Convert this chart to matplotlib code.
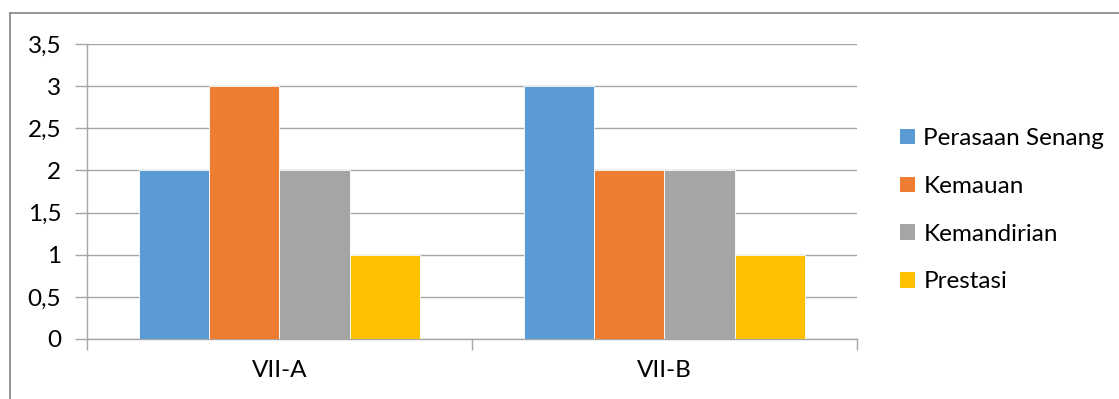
import matplotlib
matplotlib.use('Agg')
import matplotlib.pyplot as plt
from matplotlib.patches import Patch
from matplotlib.lines import Line2D
import numpy as np

plt.rcParams['font.family'] = ['Lato', 'DejaVu Sans']

# Scores per class
classes = ['VII-A', 'VII-B']
series = ['Perasaan Senang', 'Kemauan', 'Kemandirian', 'Prestasi']
perasaan_senang = [2, 3]
kemauan = [3, 2]
kemandirian = [2, 2]
prestasi = [1, 1]
values = [perasaan_senang, kemauan, kemandirian, prestasi]
colors = ['#5B9BD5', '#ED7D31', '#A5A5A5', '#FFC000']

fig = plt.figure(figsize=(11.19, 3.99), dpi=100)
ax = fig.add_axes([0.0777, 0.1504, 0.6881, 0.7393])

x = np.arange(len(classes))
w = 0.182
for i, (vals, c) in enumerate(zip(values, colors)):
    ax.bar(x + (i - 1.5) * w, vals, width=w, color=c, edgecolor='white',
           linewidth=0.6, zorder=3)

grid_c = '#A6A6A6'
fs = 17.5
ax.set_xlim(-0.5, 1.5)
ax.set_ylim(0, 3.5)
yt = np.arange(0, 3.51, 0.5)
ax.set_yticks(yt)
ax.set_yticklabels([('%g' % v).replace('.', ',') for v in yt], fontsize=fs)
ax.yaxis.grid(True, color=grid_c, linewidth=1, zorder=0)
ax.tick_params(axis='y', length=9, color=grid_c, width=1, pad=9.5)

# category labels sit between boundary ticks
ax.set_xticks([-0.5, 0.5, 1.5])
ax.set_xticklabels([])
ax.set_xticks(x, minor=True)
ax.set_xticklabels(classes, minor=True, fontsize=fs)
ax.tick_params(axis='x', which='major', length=8, color=grid_c, width=1)
ax.tick_params(axis='x', which='minor', length=0, pad=15)

for s in ['top', 'right']:
    ax.spines[s].set_visible(False)
for s in ['left', 'bottom']:
    ax.spines[s].set_color(grid_c)
    ax.spines[s].set_linewidth(1)

handles = [Patch(facecolor=c, edgecolor='none') for c in colors]
fig.legend(handles, series, loc='center left', bbox_to_anchor=(0.785, 0.473),
           frameon=False, fontsize=fs, handlelength=0.6, handleheight=0.6,
           handletextpad=0.35, labelspacing=1.1)

# outer chart frame
frame_c = '#8C8C8C'
fig.add_artist(Line2D([10 / 1119, 10 / 1119], [0, 1 - 13 / 399],
                      transform=fig.transFigure, color=frame_c, linewidth=1.3))
fig.add_artist(Line2D([10 / 1119, 1], [1 - 13 / 399, 1 - 13 / 399],
                      transform=fig.transFigure, color=frame_c, linewidth=1.3))

fig.savefig('out.png', dpi=100)
